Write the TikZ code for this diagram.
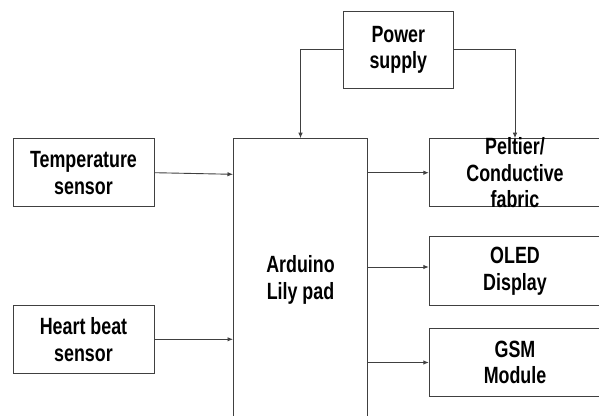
\documentclass[tikz,border=0pt]{standalone}
\usepackage{fontspec}
\setmainfont{Liberation Sans}[FakeStretch=0.76]
\usetikzlibrary{arrows.meta}
\begin{document}
\begin{tikzpicture}[x=1pt,y=-1pt,
  lbl/.style={align=center, inner sep=0pt, text=black, font=\bfseries\fontsize{23.5}{26.7}\selectfont},
  box/.style={lbl, draw=black!75, line width=1pt, fill=white},
  arr/.style={draw=black!75, line width=0.9pt, -{Latex[length=5.5pt,width=4.5pt]}}]
\useasboundingbox (0,0) rectangle (599,415);
\clip (0,0) rectangle (599,415);
\fill[white] (0,0) rectangle (599,415);
\node[box, minimum width=110, minimum height=76.3] (ps) at (398.3,49.85) {Power\\supply};
\node[box, minimum width=141, minimum height=68] (temp) at (83.5,172.7) {Temperature\\sensor};
\node[box, minimum width=141, minimum height=68] (hb) at (83.5,339.3) {Heart beat\\sensor};
\node[box, minimum width=134, minimum height=282.6] (ard) at (300.5,280) {Arduino\\Lily pad};
\node[box, minimum width=171.4, minimum height=68] (pel) at (515,172.7) {};
\node[lbl] (peltxt) at (pel.center) {Peltier/\\Conductive\\fabric};
\node[box, minimum width=171.4, minimum height=68.3] (oled) at (515,271) {OLED\\Display};
\node[box, minimum width=171.4, minimum height=68.3] (gsm) at (515,362.5) {GSM\\Module};
\coordinate (tin) at (ard.west |- 0,174.3);
\draw[arr] (temp.east) -- (tin);
\draw[arr] (hb.east) -- (hb.east -| ard.west);
\draw[arr] (pel.west -| ard.east) -- (pel.west);
\coordinate (oin) at ([yshift=4pt]oled.west);
\draw[arr] (oin -| ard.east) -- (oin);
\draw[arr] (gsm.west -| ard.east) -- (gsm.west);
\draw[arr] (ps.west) -| (ard.north);
\draw[arr] (ps.east) -| (pel.north);
\end{tikzpicture}
\end{document}
